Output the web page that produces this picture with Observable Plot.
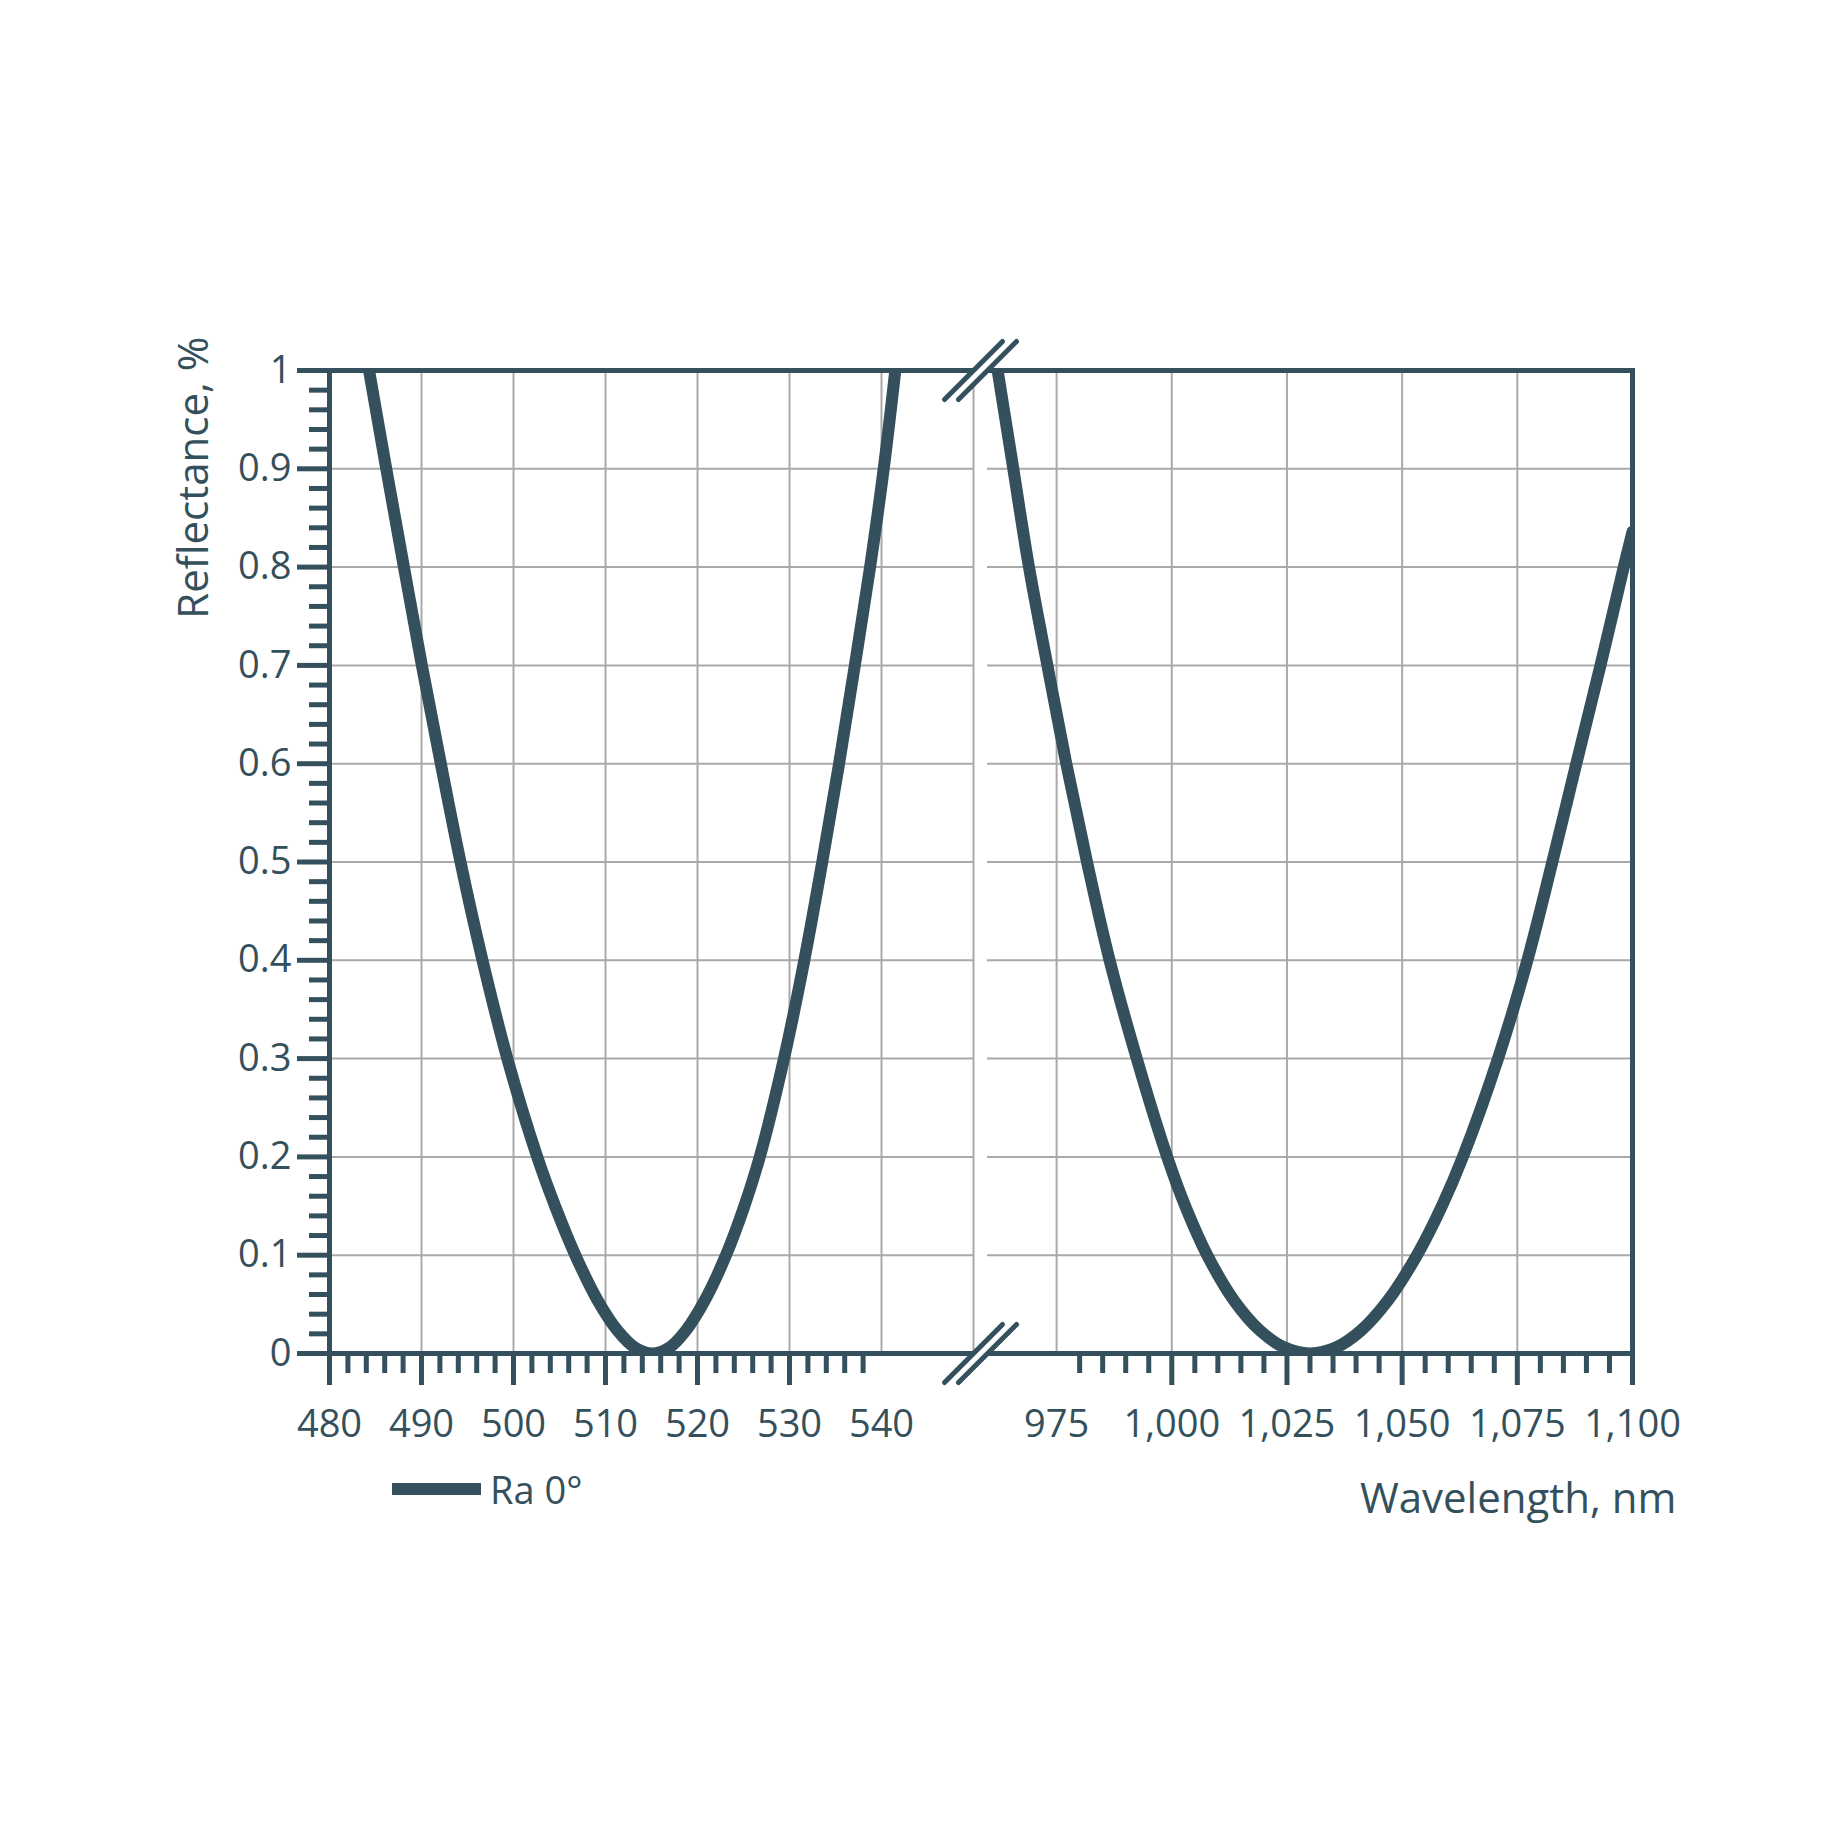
<!DOCTYPE html>
<html>
<head>
<meta charset="utf-8">
<script src="https://cdn.jsdelivr.net/npm/d3@7"></script>
<script src="https://cdn.jsdelivr.net/npm/@observablehq/plot@0.6"></script>
<style>
  html, body { margin: 0; padding: 0; background: #ffffff; }
  #wrap { position: relative; width: 1848px; height: 1848px; }
  #legend { position: absolute; left: 392px; top: 1463px; display: flex; align-items: center; gap: 9px;
            font-family: "Open Sans", sans-serif; font-size: 38px; color: #34505c; }
  #legend .sw { display: inline-block; width: 89px; height: 12px; background: #34505c; }
</style>
</head>
<body>
<div id="wrap"></div>
<script>
// ---- data ----
const seriesName = "Ra 0°";
// visible band (left panel)
const wavelengthVis = [484.3, 486.17, 488.09, 490.04, 492.1, 494.24, 496.63, 499.33, 502.58, 504.56, 506.72, 509.15, 511.34, 513.2, 515.1, 516.95, 518.71, 520.79, 523.1, 525.06, 526.77, 529.4, 531.61, 533.56, 535.39, 537.1, 538.76, 540.24, 541.5];
const reflectanceVis = [1.0, 0.9, 0.8, 0.7, 0.6, 0.5, 0.4, 0.3, 0.2, 0.149, 0.1, 0.054, 0.023, 0.006, 0.0, 0.006, 0.023, 0.054, 0.1, 0.149, 0.2, 0.3, 0.4, 0.5, 0.6, 0.7, 0.8, 0.9, 1.0];
// near-infrared band (right panel)
const wavelengthNir = [962.2, 965.6, 969.0, 973.0, 977.1, 981.6, 986.5, 992.4, 999.0, 1003.0, 1007.7, 1013.5, 1019.23, 1024.5, 1030.0, 1035.6, 1040.98, 1046.92, 1053.21, 1058.53, 1063.18, 1070.8, 1077.18, 1082.6, 1087.8, 1093.05, 1098.1, 1100.0];
const reflectanceNir = [1.0, 0.9, 0.8, 0.7, 0.6, 0.5, 0.4, 0.3, 0.2, 0.149, 0.1, 0.054, 0.023, 0.006, 0.0, 0.006, 0.023, 0.054, 0.1, 0.149, 0.2, 0.3, 0.4, 0.5, 0.6, 0.7, 0.8, 0.836];

// axis domains / ticks
const visDomain = [480, 550];
const nirDomain = [960, 1100];
const xLabelTicks = [480, 490, 500, 510, 520, 530, 540, 975, 1000, 1025, 1050, 1075, 1100];
const xMajorTicks = [480, 490, 500, 510, 520, 530, 1000, 1025, 1050, 1075, 1100];
const xMinorVis = d3.range(482, 539, 2).filter(d => d % 10 !== 0);
const xMinorNir = d3.range(980, 1096, 5).filter(d => d % 25 !== 0);
const xGridVis = [490, 500, 510, 520, 530, 540, 550];
const xGridNir = [975, 1000, 1025, 1050, 1075];
const yMajorTicks = [0, 0.1, 0.2, 0.3, 0.4, 0.5, 0.6, 0.7, 0.8, 0.9, 1];
const yMinorTicks = d3.range(0, 51).filter(i => i % 5 !== 0).map(i => i / 50);
const yGrid = [0.1, 0.2, 0.3, 0.4, 0.5, 0.6, 0.7, 0.8, 0.9];

const rows = [
  ...wavelengthVis.map((w, i) => ({wavelength: w, reflectance: reflectanceVis[i], band: "vis"})),
  ...wavelengthNir.map((w, i) => ({wavelength: w, reflectance: reflectanceNir[i], band: "nir"}))
];

const ink = "#34505c";
const gridInk = "#a9a9a9";

const slash = {
  draw(ctx, size) {
    const h = Math.sqrt(size / Math.PI);
    ctx.moveTo(-h, h);
    ctx.lineTo(h, -h);
  }
};
const breakAt = [visDomain[1], nirDomain[0]];
const breakMarks = d3.cross(breakAt, [0, 1]).map(([x, y]) => ({x, y}));
const breakGap = d3.cross([d3.mean(breakAt)], [0, 1]).map(([x, y]) => ({x, y}));

const fmtX = d => d >= 1000 ? d3.format(",")(d) : String(d);
const fmtY = d => String(+d.toFixed(1));

const W = 1848, H = 1848;
const mL = 329, mR = 216, mT = 370, mB = 495;

const chart = Plot.plot({
  width: W,
  height: H,
  marginLeft: mL,
  marginRight: mR,
  marginTop: mT,
  marginBottom: mB,
  style: {background: "#ffffff", color: ink, fontFamily: "'Open Sans', sans-serif", fontSize: "38px", overflow: "visible"},
  x: {type: "linear", domain: [visDomain[0], visDomain[1], nirDomain[0], nirDomain[1]], range: [mL, 973, 987, W - mR], label: null},
  y: {domain: [0, 1], label: null},
  marks: [
    // grid
    Plot.ruleY(yGrid, {x1: visDomain[0], x2: visDomain[1], stroke: gridInk, strokeWidth: 2}),
    Plot.ruleY(yGrid, {x1: nirDomain[0], x2: nirDomain[1], stroke: gridInk, strokeWidth: 2}),
    Plot.ruleX([...xGridVis, ...xGridNir], {y1: 0, y2: 1, stroke: gridInk, strokeWidth: 2}),
    // curve
    Plot.line(rows, {x: "wavelength", y: "reflectance", z: "band", stroke: ink, strokeWidth: 12, curve: "catmull-rom", clip: true}),
    // frame
    Plot.frame({stroke: ink, strokeWidth: 5}),
    // x ticks
    Plot.axisX(xMajorTicks, {tickSize: 32, strokeWidth: 5, text: null, label: null}),
    Plot.axisX([...xMinorVis, ...xMinorNir], {tickSize: 20, strokeWidth: 5, text: null, label: null}),
    Plot.axisX(xLabelTicks, {tickSize: 0, tickPadding: 57, tickFormat: fmtX, fontSize: 38, label: null}),
    // y ticks
    Plot.axisY(yMajorTicks, {tickSize: 32, strokeWidth: 5, text: null, label: null}),
    Plot.axisY(yMinorTicks, {tickSize: 20, strokeWidth: 5, text: null, label: null}),
    Plot.axisY(yMajorTicks, {tickSize: 0, tickPadding: 38, tickFormat: fmtY, fontSize: 38, label: null}),
    // axis break marks
    Plot.dot(breakGap, {x: "x", y: "y", r: 29, symbol: slash, fill: "none", stroke: "#ffffff", strokeWidth: 7}),
    Plot.dot(breakMarks, {x: "x", y: "y", r: 29, symbol: slash, fill: "none", stroke: ink, strokeWidth: 5, strokeLinecap: "round"}),
    // axis titles
    Plot.text(["Wavelength, nm"], {text: d => d, frameAnchor: "bottom-right", dx: 44, dy: 146, textAnchor: "end", lineAnchor: "middle", fontSize: 42, fill: ink}),
    Plot.text(["Reflectance, %"], {text: d => d, frameAnchor: "top-left", dx: -135, dy: -34, rotate: -90, textAnchor: "end", lineAnchor: "middle", fontSize: 42, fill: ink})
  ]
});

const wrap = document.getElementById("wrap");
wrap.appendChild(chart);
const legend = document.createElement("div");
legend.id = "legend";
legend.innerHTML = `<span class="sw"></span><span>${seriesName}</span>`;
wrap.appendChild(legend);
</script>
</body>
</html>
